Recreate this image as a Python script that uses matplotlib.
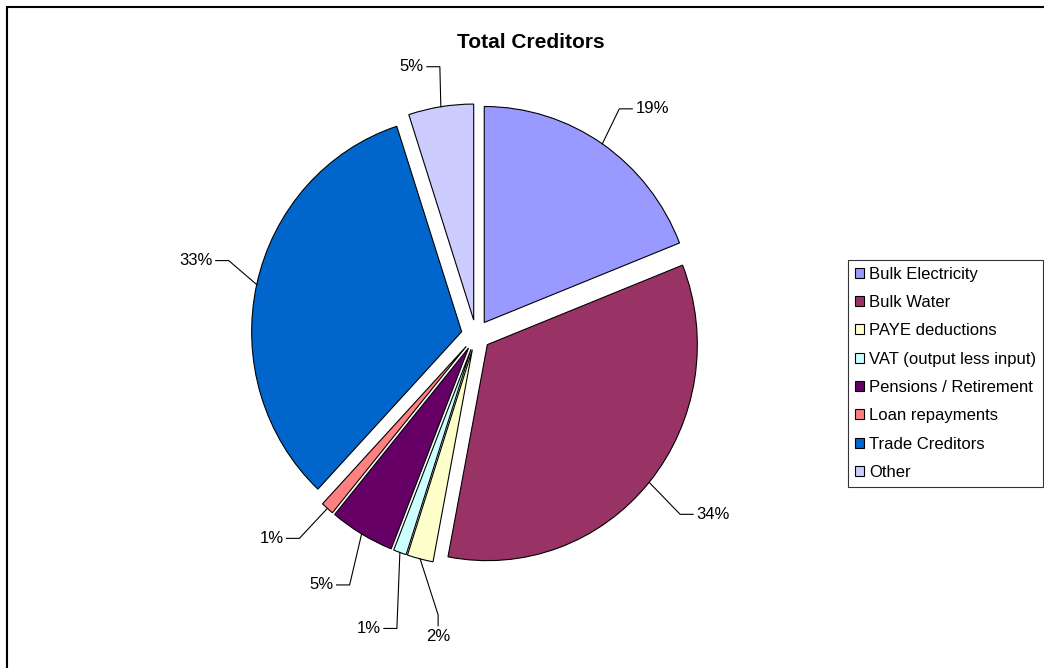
import numpy as np
import matplotlib
matplotlib.use('Agg')
import matplotlib.pyplot as plt
from matplotlib.patches import Rectangle

plt.rcParams['font.family'] = ['Liberation Sans', 'DejaVu Sans']

names = ['Bulk Electricity', 'Bulk Water', 'PAYE deductions', 'VAT (output less input)',
         'Pensions / Retirement', 'Loan repayments', 'Trade Creditors', 'Other']
shares = [19, 34, 2, 1, 5, 1, 33, 5]
colors = ['#9999FF', '#993366', '#FFFFCC', '#CCFFFF', '#660066', '#FF8080', '#0066CC', '#CCCCFF']

# label layout: elbow offset from slice anchor (px), and which way the short tail goes
elbow_px = [(17, -35), (31, 32), (18, 56), (-3, 76), (-12, 51), (-28, 30), (-28, -24), (-1, -40)]
tail = ['right', 'right', 'down', 'left', 'left', 'left', 'left', 'left']

W, H = 1044, 668
fig = plt.figure(figsize=(W / 100, H / 100), dpi=100)

# pie centre in pixels; Excel draws it a touch taller than wide
cx, cy, rx, ry = 476, 335, 210, 216
half = 330
ax = fig.add_axes([(cx - half) / W, (H - cy - half) / H, 2 * half / W, 2 * half / H])

wedges, _ = ax.pie(shares, colors=colors, explode=[0.07] * len(shares), startangle=90,
                   counterclock=False, radius=1,
                   wedgeprops=dict(edgecolor='black', linewidth=0.8))
ax.set_aspect('auto')
ax.set_xlim(-half / rx, half / rx)
ax.set_ylim(-half / ry, half / ry)
ax.axis('off')

fs = 12
for w, v, (ex, ey), t in zip(wedges, shares, elbow_px, tail):
    mid = np.deg2rad((w.theta1 + w.theta2) / 2)
    x0 = w.center[0] + np.cos(mid)
    y0 = w.center[1] + np.sin(mid)
    x1 = x0 + ex / rx
    y1 = y0 - ey / ry
    if t == 'right':
        x2, y2 = x1 + 13 / rx, y1
        ax.text(x2 + 3 / rx, y2, f'{v}%', ha='left', va='center', fontsize=fs)
    elif t == 'left':
        x2, y2 = x1 - 13 / rx, y1
        ax.text(x2 - 3 / rx, y2, f'{v}%', ha='right', va='center', fontsize=fs)
    else:
        x2, y2 = x1, y1 - 11 / ry
        ax.text(x2, y2 - 3 / ry, f'{v}%', ha='center', va='top', fontsize=fs)
    ax.plot([x0, x1, x2], [y0, y1, y2], color='black', lw=0.8)

fig.text(531 / W, 1 - 42 / H, 'Total Creditors', ha='center', va='center',
         fontsize=15, fontweight='bold')

leg = fig.legend(wedges, names, loc='upper left', bbox_to_anchor=(848 / W, 1 - 260 / H),
                 fontsize=12, frameon=True, fancybox=False, edgecolor='black',
                 handlelength=0.55, handleheight=0.55, handletextpad=0.3,
                 labelspacing=0.8, borderpad=0.4, borderaxespad=0)
leg.get_frame().set_linewidth(0.8)

fig.patches.append(Rectangle((7 / W, -0.05), 1.1, 1 - 7 / H + 0.05, transform=fig.transFigure,
                             fill=False, edgecolor='black', lw=1.5))

fig.savefig('out.png', dpi=100)
